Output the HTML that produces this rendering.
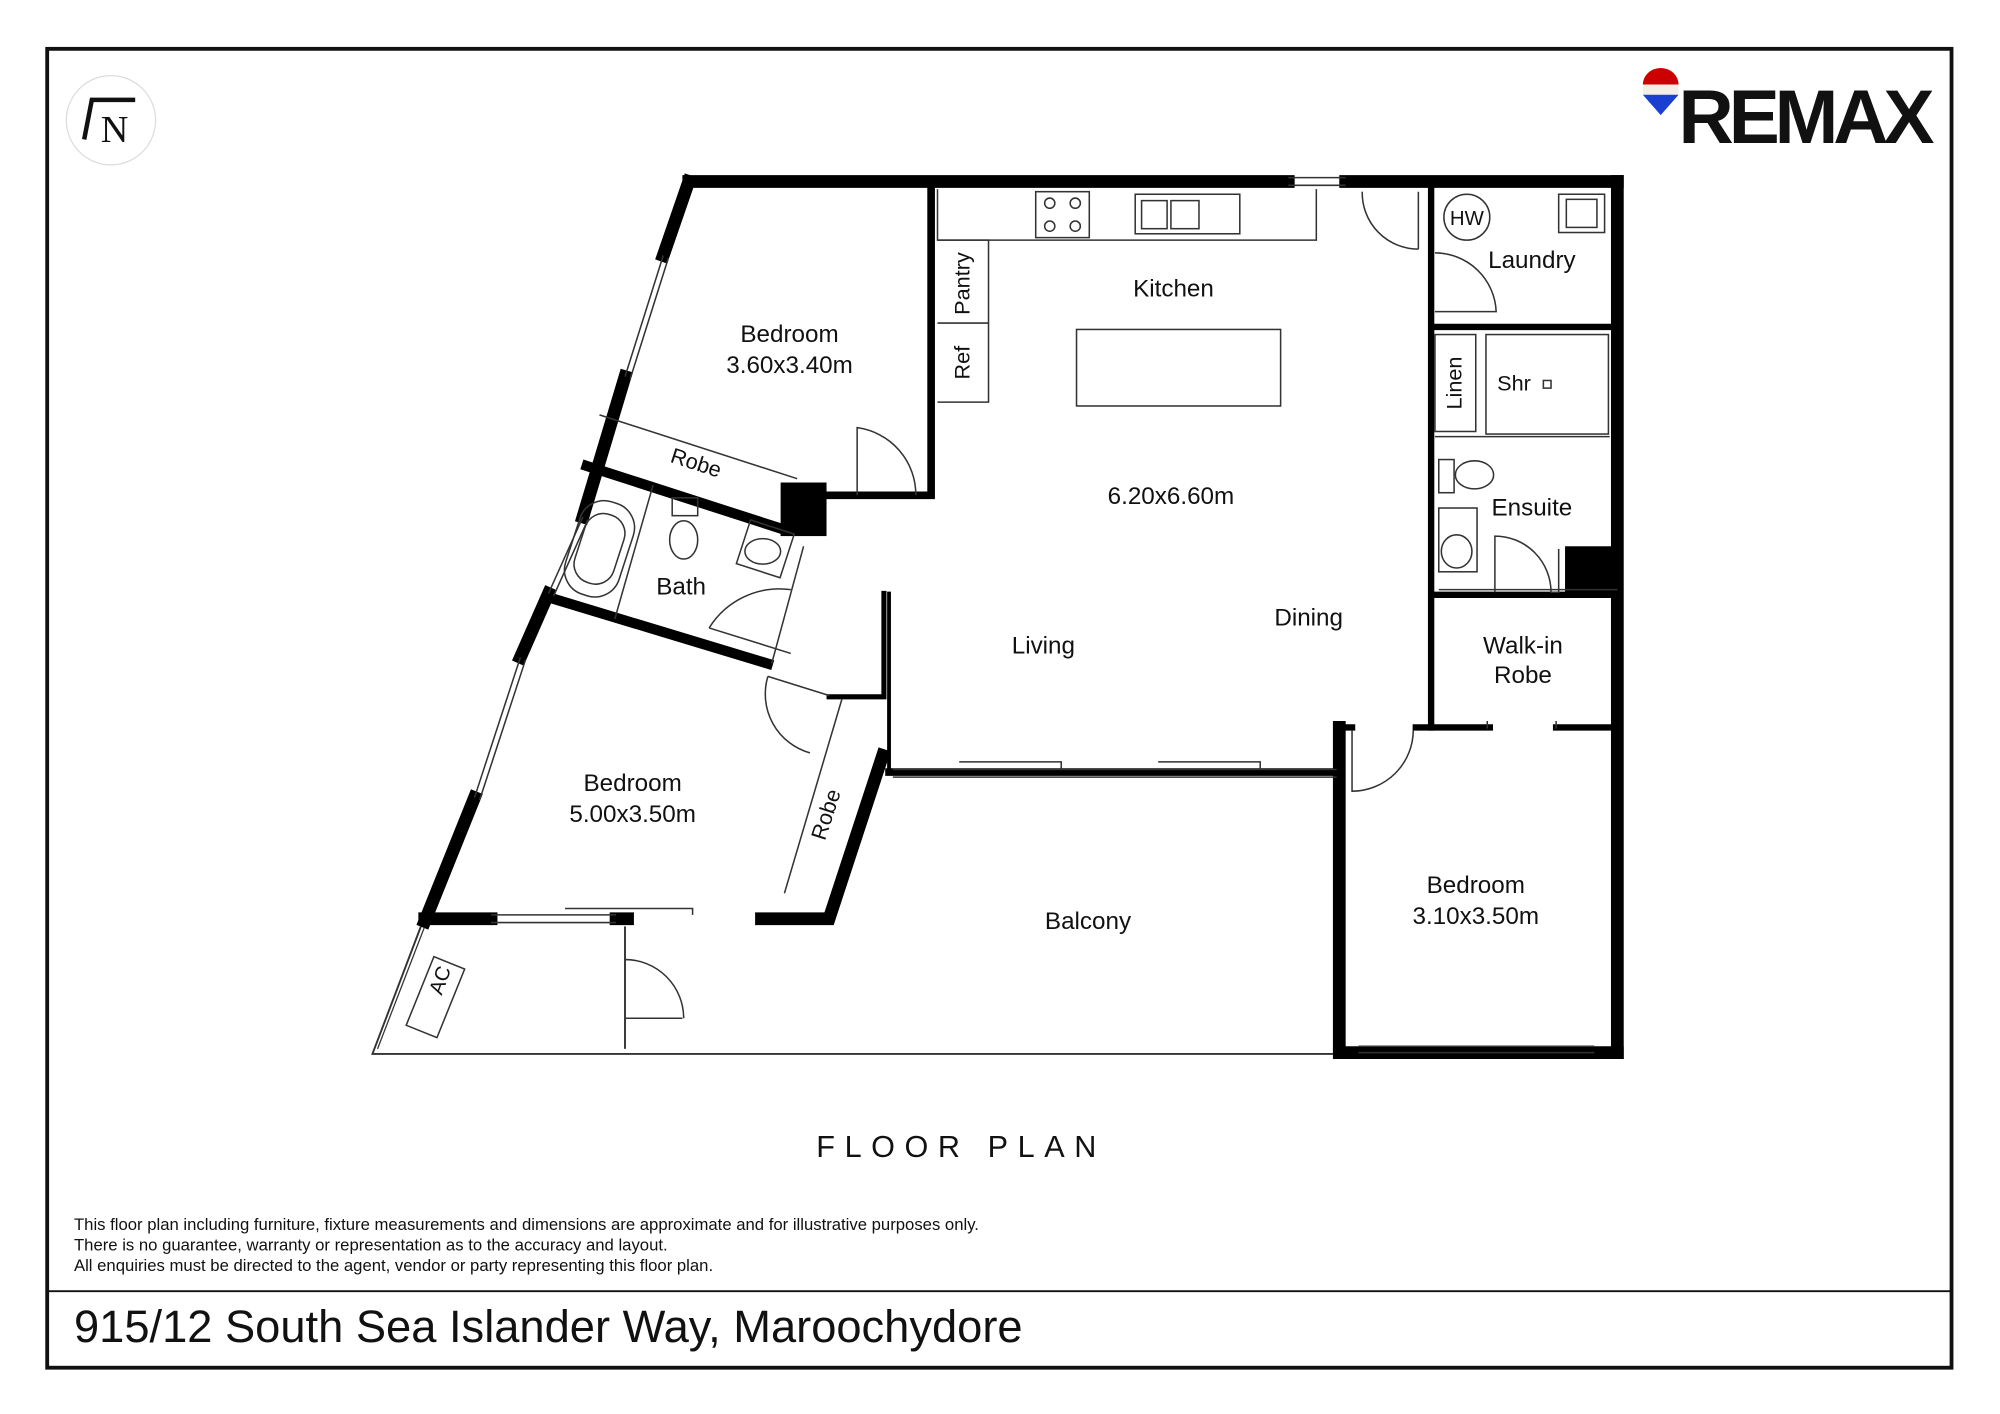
<!DOCTYPE html>
<html><head><meta charset="utf-8"><style>
html,body{margin:0;padding:0;background:#fff;}
svg{display:block;}
text{font-family:"Liberation Sans",sans-serif;fill:#111;}
</style></head><body>
<svg width="2000" height="1414" viewBox="0 0 1568 1108" xmlns="http://www.w3.org/2000/svg">
<rect x="0" y="0" width="1568" height="1108" fill="#fff"/>
<rect x="37" y="38" width="1493" height="1034" fill="none" stroke="#111" stroke-width="3"/>
<line x1="37" y1="1012" x2="1530" y2="1012" stroke="#111" stroke-width="1.5"/>

<circle cx="87" cy="94" r="35" fill="#fff" stroke="#ddd" stroke-width="1"/>
<path d="M66 109 L72 78 L106 78" fill="none" stroke="#111" stroke-width="3.5"/>
<text x="79" y="111" font-size="30" style="font-family:'Liberation Serif',serif">N</text>

<path d="M1288 66 A14 13 0 0 1 1316 66 Z" fill="#c00"/>
<rect x="1288" y="66" width="28" height="8" fill="#f3eee6"/>
<path d="M1288 74 L1316 74 L1302 90 Z" fill="#1a3fd1"/>
<text x="1316" y="112" font-size="60" font-weight="bold" letter-spacing="-4">REMAX</text>

<path d="M330 726 L292 826 L1045 826" fill="none" stroke="#333" stroke-width="1.5"/>
<path d="M333 726 L296 822" fill="none" stroke="#333" stroke-width="1"/>
<line x1="490" y1="726" x2="490" y2="822" stroke="#333" stroke-width="1.5"/>
<line x1="490" y1="798" x2="535" y2="798" stroke="#333" stroke-width="1.2"/>
<path d="M490 752 A46 46 0 0 1 536 798" fill="none" stroke="#333" stroke-width="1.2"/>
<rect x="-13" y="-22" width="26" height="58" transform="translate(344,775) rotate(22)" fill="none" stroke="#333" stroke-width="1.2"/>
<text transform="translate(350,770) rotate(-70)" font-size="16" text-anchor="middle">AC</text>

<g fill="none" stroke="#000" stroke-linecap="square">
<path d="M540 142 L1010 142 M1055 142 L1268 142" stroke-width="10"/>
<path d="M1268 142 L1268 825" stroke-width="10"/>
<path d="M540 142 L520 200 M490 295 L457 405 M430 465 L408 515 M372 625 L333 722" stroke-width="10"/>
<path d="M333 720 L385 720 M483 720 L492 720 M597 720 L650 720 L692 592" stroke-width="10"/>
<path d="M730 148 L730 388 L650 388" stroke-width="6"/>
<path d="M460 365 L615 415" stroke-width="8"/>
<path d="M430 468 L602 520" stroke-width="8"/>
<path d="M650 546 L693 546 L693 465" stroke-width="4"/>
<path d="M697 465 L697 605" stroke-width="3"/>
<path d="M697 605 L1050 605" stroke-width="6"/>
<path d="M1050 570 L1050 825 L1268 825" stroke-width="10"/>
<path d="M1050 570 L1060 570 M1110 570 L1168 570 M1220 570 L1268 570" stroke-width="5"/>
<path d="M1122 142 L1122 570" stroke-width="5"/>
<path d="M1125 466 L1268 466" stroke-width="5"/>
<path d="M1125 256 L1268 256" stroke-width="5"/>
</g>
<rect x="612" y="378" width="36" height="42" fill="#000"/>
<rect x="1227" y="428" width="40" height="38" fill="#000"/>

<g fill="none" stroke="#333" stroke-width="1.2">
<path d="M520 200 L490 295 M524 202 L494 297"/>
<path d="M457 405 L430 465 M461 407 L434 467"/>
<path d="M408 515 L372 625 M412 517 L376 627"/>
<path d="M385 717 L483 717 M385 723 L483 723 M443 712 L543 712 L543 717"/>
<path d="M1010 139 L1055 139 M1010 145 L1055 145"/>
<path d="M1065 820 L1250 820 M1065 825 L1250 825"/>
<path d="M700 603 L1048 603 M700 609 L1048 609 M752 597 L832 597 L832 603 M908 597 L988 597 L988 603"/>
<path d="M470 325 L625 375"/>
<path d="M630 428 L605 520"/>
<path d="M512 380 L482 485"/>
<rect x="-22" y="-38" width="44" height="76" rx="20" transform="translate(470,430) rotate(18)"/>
<rect x="-16" y="-28" width="32" height="56" rx="15" transform="translate(470,430) rotate(18)"/>
<ellipse cx="536" cy="423" rx="11" ry="15"/>
<rect x="527" y="390" width="20" height="14"/>
<rect x="-18" y="-18" width="36" height="36" transform="translate(600,430) rotate(18)"/>
<ellipse cx="598" cy="432" rx="14" ry="10"/>
<path d="M556 492 L620 512 M556 492 A65 65 0 0 1 620 462"/>
<path d="M672 388 L672 335 A53 53 0 0 1 718 388"/>
<path d="M602 530 L650 545 M602 530 A48 48 0 0 0 635 590"/>
<path d="M660 548 L615 700"/>
<path d="M735 148 L735 188 L1032 188 L1032 148"/>
<rect x="812" y="150" width="42" height="36"/>
<circle cx="823" cy="159" r="4"/><circle cx="843" cy="159" r="4"/><circle cx="823" cy="177" r="4"/><circle cx="843" cy="177" r="4"/>
<rect x="890" y="152" width="82" height="31"/>
<rect x="895" y="157" width="20" height="22"/><rect x="918" y="157" width="22" height="22"/>
<path d="M735 188 L775 188 L775 315 L735 315 M735 253 L775 253"/>
<rect x="844" y="258" width="160" height="60"/>
<path d="M1112 150 L1112 195 M1068 150 A44 44 0 0 0 1112 195"/>
<circle cx="1150" cy="170" r="18"/>
<rect x="1222" y="152" width="36" height="30"/>
<rect x="1228" y="156" width="24" height="22"/>
<path d="M1125 244 L1173 244 A48 48 0 0 0 1125 198"/>
<rect x="1125" y="262" width="32" height="76"/>
<rect x="1165" y="262" width="96" height="78"/>
<rect x="1210" y="298" width="6" height="6"/>
<path d="M1125 342 L1262 342"/>
<ellipse cx="1156" cy="372" rx="15" ry="11"/>
<rect x="1128" y="360" width="12" height="26"/>
<rect x="1128" y="398" width="30" height="50"/>
<ellipse cx="1142" cy="432" rx="12" ry="13"/>
<path d="M1128 462 L1268 462"/>
<path d="M1172 464 L1172 420 A44 44 0 0 1 1216 464 L1222 464 L1222 430"/>
<path d="M1060 572 L1060 620 A48 48 0 0 0 1108 572"/>
<path d="M1166 571 L1166 565 M1220 571 L1220 565"/>
</g>

<g font-size="19" text-anchor="middle">
<text x="619" y="268">Bedroom</text>
<text x="619" y="292">3.60x3.40m</text>
<text x="920" y="232">Kitchen</text>
<text x="918" y="395">6.20x6.60m</text>
<text x="1026" y="490">Dining</text>
<text x="818" y="512">Living</text>
<text x="534" y="466">Bath</text>
<text x="496" y="620">Bedroom</text>
<text x="496" y="644">5.00x3.50m</text>
<text x="853" y="728">Balcony</text>
<text x="1157" y="700">Bedroom</text>
<text x="1157" y="724">3.10x3.50m</text>
<text x="1194" y="512">Walk-in</text>
<text x="1194" y="535">Robe</text>
<text x="1201" y="404">Ensuite</text>
<text x="1201" y="210">Laundry</text>
<text x="1187" y="306" font-size="17">Shr</text>
<text x="1150" y="176" font-size="16">HW</text>
<text transform="translate(544,368) rotate(18)" font-size="17">Robe</text>
<text transform="translate(653,640) rotate(-72)" font-size="17">Robe</text>
<text transform="translate(760,222) rotate(-90)" font-size="17">Pantry</text>
<text transform="translate(760,284) rotate(-90)" font-size="17">Ref</text>
<text transform="translate(1146,300) rotate(-90)" font-size="17">Linen</text>
</g>

<text x="640" y="907" font-size="24" letter-spacing="7.5">FLOOR PLAN</text>
<g font-size="13.1">
<text x="58" y="964">This floor plan including furniture, fixture measurements and dimensions are approximate and for illustrative purposes only.</text>
<text x="58" y="980">There is no guarantee, warranty or representation as to the accuracy and layout.</text>
<text x="58" y="996">All enquiries must be directed to the agent, vendor or party representing this floor plan.</text>
</g>
<text x="58" y="1052" font-size="35.5">915/12 South Sea Islander Way, Maroochydore</text>
</svg>
</body></html>
